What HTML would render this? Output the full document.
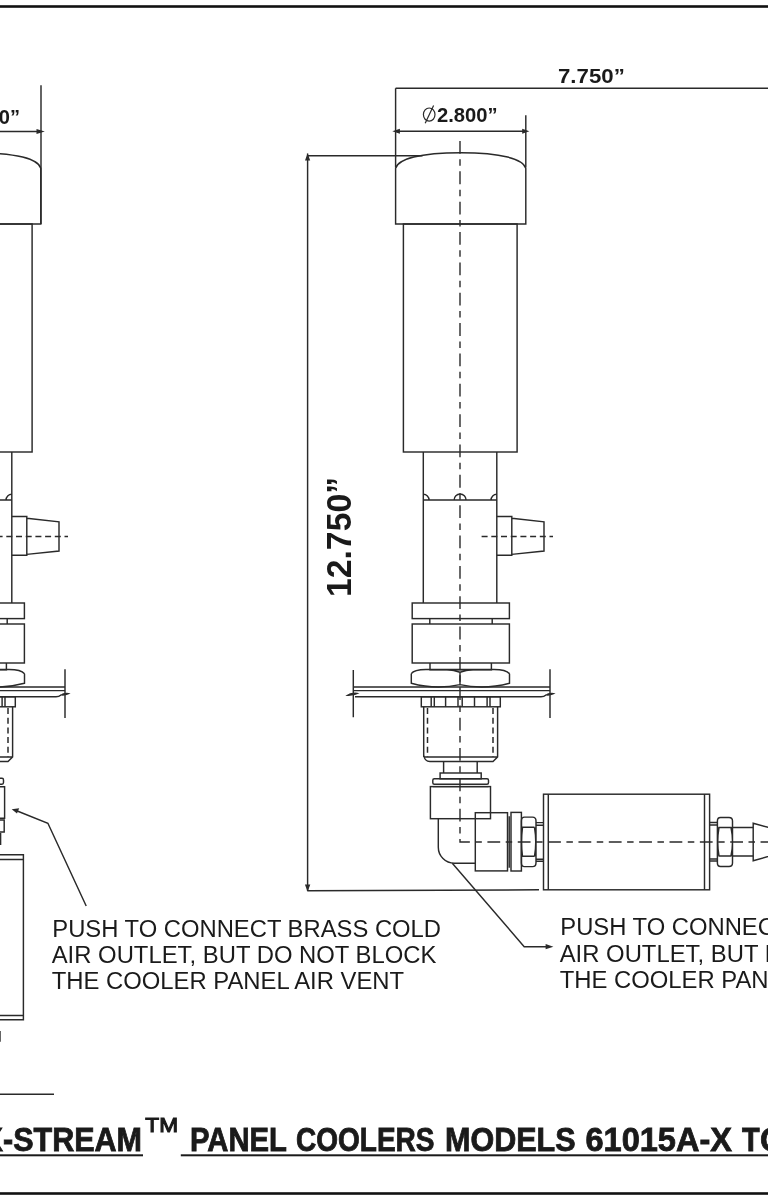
<!DOCTYPE html>
<html><head><meta charset="utf-8">
<style>
html,body{margin:0;padding:0;background:#fff;width:768px;height:1200px;overflow:hidden}
svg{display:block;will-change:transform}
.s{fill:none;stroke:#2a2a2a;stroke-width:1.45}
.d{fill:none;stroke:#2a2a2a;stroke-width:1.4;stroke-dasharray:12.8 5.5 6.5 5.55}
.dd{fill:none;stroke:#2a2a2a;stroke-width:1.5;stroke-dasharray:6 3.7}
.f{fill:#2a2a2a;stroke:none}
.t{font-family:"Liberation Sans",sans-serif;fill:#1a1a1a}
.b{font-family:"Liberation Sans",sans-serif;font-weight:bold;fill:#1a1a1a}
</style></head>
<body>
<svg width="768" height="1200" viewBox="0 0 768 1200">


<!-- borders -->
<rect x="0" y="5.2" width="768" height="2.6" fill="#111"/>
<rect x="0" y="1192.2" width="768" height="2.6" fill="#111"/>

<!-- RIGHT FIGURE -->
<g>
  <!-- cap -->
  <path class="s" d="M395.6,224 V168.4 C398,159 420,152.8 460.7,152.8 C501.4,152.8 523.4,159 525.8,168.4 V224 Z"/>
  <!-- tube -->
  <rect class="s" x="403.4" y="224" width="113.7" height="228"/>
  <!-- lower tube -->
  <path class="s" d="M423.3,452 V603 M496.8,452 V603"/>
  <!-- joint -->
  <path class="s" d="M423.3,500 H496.8 M423.3,494.2 A5.8,5.8 0 0 1 429.1,500 M454.1,500 A6,6 0 0 1 466.1,500 M491,500 A5.8,5.8 0 0 1 496.8,494.2"/>
  <!-- barb -->
  <path class="s" d="M496.8,516.4 H511.8 V555.2 H496.8 M511.8,518.2 L544,521.9 V551 L511.8,554.4"/>
  <path class="dd" d="M481.6,536.5 H553"/>
  <!-- flange / nut -->
  <rect class="s" x="412.2" y="603" width="97.2" height="15.6"/>
  <path class="s" d="M429.8,618.6 V624 M492.2,618.6 V624"/>
  <rect class="s" x="412.2" y="624" width="97.2" height="39"/>
  <path class="s" d="M430,663 V669.7 H491.4 V663"/>
  <!-- hex lobes -->
  <path class="s" d="M411.3,673.7 Q414,669.5 426,669.5 H494 Q506,669.5 509.5,673.7 M447,669.5 Q454,670 460,672.3 Q466,670 473,669.5 M411.3,673.7 V683.2 Q436,690 460,684.6 Q484,690 509.5,683.2 V673.7 M460,672.3 V684.6"/>
  <!-- panel -->
  <path class="s" d="M353.3,687 H550 M353.3,690.6 H550 M355,696.8 H541 Q544,696.8 546,695"/>
  <path class="s" d="M353.3,670 V717.3 M550,669.3 V718"/>
  <path class="f" d="M345.3,695.8 Q352,691.2 359.5,693.2 Q352,697 345.3,695.8 Z M544.5,695.2 Q550,691.6 555.6,693.5 Q550,696.6 544.5,695.2 Z"/>
  <!-- lock nut -->
  <rect class="s" x="421.3" y="696.8" width="79" height="10"/>
  <path class="s" d="M431.2,696.8 V706.8 M434.3,696.8 V706.8 M445.6,696.8 V706.8 M458,696.8 V706.8 M462.2,696.8 V706.8 M474.5,696.8 V706.8 M487.1,696.8 V706.8 M490,696.8 V706.8"/>
  <!-- thread -->
  <path class="s" d="M423.7,706.8 V757 M423.9,755.5 Q424.5,761.5 430,761.5 H493 L497.6,757 V706.8 M423.7,757 H497.6"/>
  <path class="dd" d="M427.5,708 V757 M493,708 V757"/>
</g>

<!-- elbow (right) -->
<path class="s" d="M443.6,761.5 V773 M477.2,761.5 V773"/>
<rect class="s" x="440.1" y="773" width="41.1" height="5.8"/>
<rect class="s" x="432.8" y="778.8" width="55.7" height="5.4" rx="1.5"/>
<path class="s" d="M432.8,786.6 H488.5"/>
<rect class="s" x="430.4" y="786.6" width="60.1" height="32.1"/>
<path class="s" d="M438.3,818.7 V847.2 A16,16 0 0 0 454.3,863.2 H475.3"/>
<rect class="s" x="475.3" y="812.7" width="32.2" height="58.2"/>
<path class="s" d="M509.2,816.2 V867.8"/>
<rect class="s" x="511" y="812.4" width="10.4" height="58.6"/>
<path class="s" d="M524.5,817.1 H532.5 Q536,817.1 536,821 V862.7 Q536,866.6 532.5,866.6 H524.5 Q521.4,866.6 521.4,862.7 V821 Q521.4,817.1 524.5,817.1 Z M522,827.3 H534.5 M522,856.3 H534.5 M522.5,827.3 Q520.5,842 522.5,856.3 M534.5,827.3 Q537,842 534.5,856.3"/>
<path class="s" d="M536,822.6 H544 M536,825.3 H544 M536,859.3 H544 M536,861.3 H544"/>
<!-- filter -->
<rect class="s" x="543.5" y="794.2" width="166.1" height="95.6"/>
<path class="s" d="M548.3,794.2 V889.8 M704.5,794.2 V889.8"/>
<path class="s" d="M709.6,822.5 H717.5 M709.6,824.9 H717.5 M709.6,858.9 H717.5 M709.6,861 H717.5"/>
<path class="s" d="M720.5,817.5 H729 Q732.5,817.5 732.5,821 V863 Q732.5,866.5 729,866.5 H720.5 Q717.4,866.5 717.4,863 V821 Q717.4,817.5 720.5,817.5 Z M718.5,827.4 H731.5 M718.5,855.9 H731.5 M719,827.4 Q716.5,842 719,855.9 M731,827.4 Q734,842 731,855.9"/>
<path class="s" d="M732.5,827.4 H753.2 M732.5,855.9 H753.2"/>
<path class="s" d="M790,833.5 L753.2,823.2 V860.7 L790,850.3"/>
<!-- centerline -->
<path class="d" d="M460,141 V842 H768"/>

<!-- dims right -->
<path class="s" d="M395.6,88.3 H768 M395.6,88.3 V167.5 M525.8,115.3 V167.5 M395.6,131.3 H525.8"/>
<path class="f" d="M392.3,131.3 l7.6,-2.5 v5 Z M529.4,131.3 l-7.2,-2.5 v5 Z"/>
<path class="s" d="M307.6,153.6 V890.9 M307.6,155.8 H422.5 M307.6,890.8 L539,889.8"/>
<path class="f" d="M307.6,153.2 l-2.6,7.4 h5.2 Z M307.6,891.8 l-2.7,-7.4 h5.4 Z"/>
<!-- leader right -->
<path class="s" d="M452.3,863.2 L524.2,946.7 H548"/>
<path class="f" d="M553.4,946.7 l-7.8,-2.6 v5.2 Z"/>

<!-- dim texts -->
<text id="t775" class="b" x="557.97" y="82.5" font-size="21" textLength="66.81" lengthAdjust="spacingAndGlyphs">7.750&#8221;</text>
<ellipse class="s" cx="429.2" cy="114.6" rx="5.8" ry="6.6" style="stroke-width:1.2"/>
<path class="s" d="M425.2,123.2 L433.6,105.4" style="stroke-width:1.2"/>
<text id="t280" class="b" x="437.03" y="121.6" font-size="20.6" textLength="60.62" lengthAdjust="spacingAndGlyphs">2.800&#8221;</text>
<text id="t1275" class="b" transform="translate(350.9,597.07) rotate(-90)" x="0" y="0" font-size="34.4" textLength="120.14" lengthAdjust="spacingAndGlyphs">12.750&#8221;</text>

<!-- notes -->
<g class="t" font-size="23.5">
<text id="n1" x="52.29" y="936.8" textLength="388.71" lengthAdjust="spacingAndGlyphs">PUSH TO CONNECT BRASS COLD</text>
<text id="n2" x="51.7" y="962.8" textLength="384.8" lengthAdjust="spacingAndGlyphs">AIR OUTLET, BUT DO NOT BLOCK</text>
<text id="n3" x="51.7" y="988.8" textLength="352.4" lengthAdjust="spacingAndGlyphs">THE COOLER PANEL AIR VENT</text>
</g>
<g class="t" font-size="23.5">
<text id="r1" x="560.29" y="934.7" textLength="388.71" lengthAdjust="spacingAndGlyphs">PUSH TO CONNECT BRASS COLD</text>
<text id="r2" x="559.7" y="961.8" textLength="384.8" lengthAdjust="spacingAndGlyphs">AIR OUTLET, BUT DO NOT BLOCK</text>
<text id="r3" x="559.7" y="987.9" textLength="352.4" lengthAdjust="spacingAndGlyphs">THE COOLER PANEL AIR VENT</text>
</g>

<!-- LEFT FIGURE -->
<g transform="translate(-485,0)">
  <!-- cap -->
  <path class="s" d="M395.6,224 V168.4 C398,159 420,152.8 460.7,152.8 C501.4,152.8 523.4,159 525.8,168.4 V224 Z"/>
  <!-- tube -->
  <rect class="s" x="403.4" y="224" width="113.7" height="228"/>
  <!-- lower tube -->
  <path class="s" d="M423.3,452 V603 M496.8,452 V603"/>
  <!-- joint -->
  <path class="s" d="M423.3,500 H496.8 M423.3,494.2 A5.8,5.8 0 0 1 429.1,500 M454.1,500 A6,6 0 0 1 466.1,500 M491,500 A5.8,5.8 0 0 1 496.8,494.2"/>
  <!-- barb -->
  <path class="s" d="M496.8,516.4 H511.8 V555.2 H496.8 M511.8,518.2 L544,521.9 V551 L511.8,554.4"/>
  <path class="dd" d="M481.6,536.5 H553"/>
  <!-- flange / nut -->
  <rect class="s" x="412.2" y="603" width="97.2" height="15.6"/>
  <path class="s" d="M429.8,618.6 V624 M492.2,618.6 V624"/>
  <rect class="s" x="412.2" y="624" width="97.2" height="39"/>
  <path class="s" d="M430,663 V669.7 H491.4 V663"/>
  <!-- hex lobes -->
  <path class="s" d="M411.3,673.7 Q414,669.5 426,669.5 H494 Q506,669.5 509.5,673.7 M447,669.5 Q454,670 460,672.3 Q466,670 473,669.5 M411.3,673.7 V683.2 Q436,690 460,684.6 Q484,690 509.5,683.2 V673.7 M460,672.3 V684.6"/>
  <!-- panel -->
  <path class="s" d="M353.3,687 H550 M353.3,690.6 H550 M355,696.8 H541 Q544,696.8 546,695"/>
  <path class="s" d="M353.3,670 V717.3 M550,669.3 V718"/>
  <path class="f" d="M345.3,695.8 Q352,691.2 359.5,693.2 Q352,697 345.3,695.8 Z M544.5,695.2 Q550,691.6 555.6,693.5 Q550,696.6 544.5,695.2 Z"/>
  <!-- lock nut -->
  <rect class="s" x="421.3" y="696.8" width="79" height="10"/>
  <path class="s" d="M431.2,696.8 V706.8 M434.3,696.8 V706.8 M445.6,696.8 V706.8 M458,696.8 V706.8 M462.2,696.8 V706.8 M474.5,696.8 V706.8 M487.1,696.8 V706.8 M490,696.8 V706.8"/>
  <!-- thread -->
  <path class="s" d="M423.7,706.8 V757 M423.9,755.5 Q424.5,761.5 430,761.5 H493 L497.6,757 V706.8 M423.7,757 H497.6"/>
  <path class="dd" d="M427.5,708 V757 M493,708 V757"/>
</g>
<path class="s" d="M41,85.3 V224"/>
<path class="s" d="M0,131.5 H41"/>
<path class="f" d="M44.8,131.5 l-8.3,-2.5 v5 Z"/>
<text id="tl280" class="b" x="-40.3" y="123.7" font-size="20.6" textLength="60.38" lengthAdjust="spacingAndGlyphs">2.800&#8221;</text>
<!-- left fitting -->
<path class="s" d="M0,778.3 H2 Q3.5,778.3 3.5,780 V782.5 Q3.5,784.2 2,784.2 H0 M0,786.7 H4.6 V818.3 H0 M0,820 H4.2 V832 H0 M0.6,833 V845"/>
<path class="s" d="M86.2,906 L47.9,823.3 L16,810.5"/>
<path class="f" d="M11.7,809.2 l7.5,-1 l-2.2,5.2 Z"/>
<!-- box -->
<path class="s" d="M0,854.7 H23.4 V1019.8 H0 M0,859.5 H23.4 M0,1015.5 H23.4"/>
<path class="s" d="M0,1031 V1041.7"/>
<path class="s" d="M0,1094.3 H54"/>

<!-- title -->
<g class="b" font-size="32.4" style="stroke:#1a1a1a;stroke-width:0.8">
<text id="w0" x="-19" y="1151" textLength="22" lengthAdjust="spacingAndGlyphs">X</text>
<text id="w1" x="2.99" y="1151" textLength="139.04" lengthAdjust="spacingAndGlyphs">-STREAM</text>
<text id="w2" x="145.38" y="1131.8" font-size="20" font-weight="normal" style="stroke-width:1.1" textLength="32.71" lengthAdjust="spacingAndGlyphs">TM</text>
<text id="w3" x="189.98" y="1151" textLength="97.03" lengthAdjust="spacingAndGlyphs">PANEL</text>
<text id="w4" x="295.99" y="1151" textLength="138.54" lengthAdjust="spacingAndGlyphs">COOLERS</text>
<text id="w5" x="445.02" y="1151" textLength="130.52" lengthAdjust="spacingAndGlyphs">MODELS</text>
<text id="w6" x="585.49" y="1151" textLength="146.52" lengthAdjust="spacingAndGlyphs">61015A-X</text>
<text id="w7" x="742.11" y="1151" textLength="17.65" lengthAdjust="spacingAndGlyphs">T</text>
<text id="w8" x="760" y="1151" textLength="25" lengthAdjust="spacingAndGlyphs">O</text>
</g>
<rect x="0" y="1154.3" width="143" height="2" fill="#1a1a1a"/>
<rect x="180.8" y="1154.3" width="588" height="2" fill="#1a1a1a"/>
</svg>
</body></html>
